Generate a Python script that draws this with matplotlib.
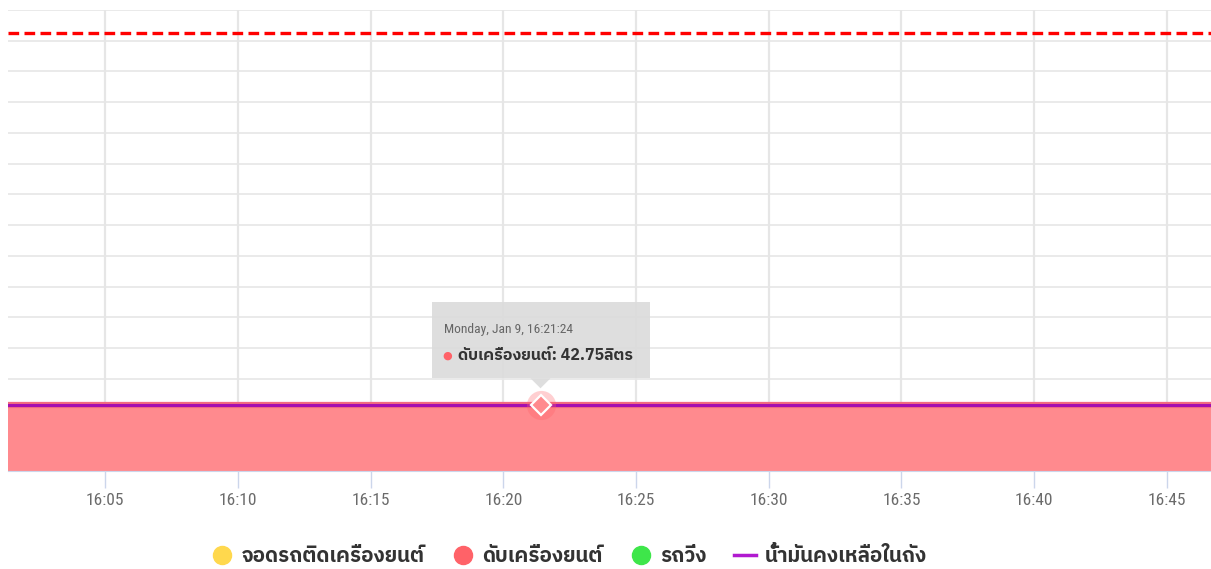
import numpy as np
import pandas as pd
import matplotlib
matplotlib.use("Agg")
import matplotlib.pyplot as plt
import matplotlib.dates as mdates
from matplotlib import font_manager
from matplotlib.ft2font import FT2Font
from matplotlib.lines import Line2D
from matplotlib.patches import Polygon, FancyBboxPatch

# ---------------- data ----------------
times = ["2023-01-09 16:01:20", "2023-01-09 16:21:24", "2023-01-09 16:46:40"]
engine_off_litres = [42.75, 42.75, 42.75]      # red area  (ดับเครื่องยนต์)
fuel_remaining = [42.75, 42.75, 42.75]         # purple line (น้ำมันคงเหลือในถัง)
tank_capacity = 285                             # red dashed line
y_max = 300
y_step = 20
tick_times = ["16:05", "16:10", "16:15", "16:20", "16:25", "16:30", "16:35", "16:40", "16:45"]
legend_labels = ["จอดรถติดเครื่องยนต์", "ดับเครื่องยนต์", "รถวิ่ง", "น้ำมันคงเหลือในถัง"]
tooltip_time = "2023-01-09 16:21:24"
tooltip_header = "Monday, Jan 9, 16:21:24"
tooltip_series = "ดับเครื่องยนต์"
tooltip_value = 42.75
tooltip_unit = "ลิตร"

# ---------------- fonts ----------------
def find_thai_font():
    preferred = []
    others = []
    for path in font_manager.findSystemFonts():
        try:
            f = FT2Font(path)
            cmap = f.get_charmap()
        except Exception:
            continue
        if 0x0E14 in cmap and 0x0E34 in cmap:
            name = font_manager.FontProperties(fname=path).get_name()
            if "Thai" in name or "Loma" in name or "Garuda" in name:
                preferred.append(name)
            else:
                others.append(name)
    for lst in (preferred, others):
        if lst:
            return lst[0]
    return None

thai = find_thai_font()
fam = ([thai] if thai else []) + ["DejaVu Sans"]

def has_font(name):
    try:
        font_manager.findfont(font_manager.FontProperties(family=name), fallback_to_default=False)
        return True
    except Exception:
        return False

tick_family = "DejaVu Sans"
for cand in ["Liberation Sans Narrow", "Roboto Condensed", "Open Sans Condensed", "Roboto"]:
    if has_font(cand):
        tick_family = cand
        break

plt.rcParams["font.family"] = fam

# ---------------- figure ----------------
W, H, DPI = 1211, 569, 100
fig = plt.figure(figsize=(W / DPI, H / DPI), dpi=DPI)
ax = fig.add_axes([8 / W, (H - 471) / H, 1 - 8 / W, (471 - 10) / H])

t = pd.to_datetime(times)
ax.fill_between(t, 0, engine_off_litres, color="#ff8a8e", lw=0, zorder=2)
ax.plot(t, engine_off_litres, color="#f26b80", lw=4.5, zorder=3)
ax.plot(t, fuel_remaining, color="#a40fb0", lw=2.2, zorder=4)
ax.axhline(tank_capacity, color="#ff0000", lw=2.4, ls=(0, (3.2, 1.6)), zorder=5)

day = pd.Timestamp(times[0]).strftime("%Y-%m-%d")
tick_pos = pd.to_datetime([f"{day} {s}" for s in tick_times])
ax.set_xticks(tick_pos)
ax.set_xticklabels(tick_times, fontfamily=tick_family, fontsize=12.5, color="#6b6b6b")
ax.set_xlim(t[0], t[-1])
ax.set_ylim(0, y_max)
ax.set_yticks(np.arange(0, y_max + 1, y_step))
ax.tick_params(axis="y", left=False, labelleft=False)
ax.tick_params(axis="x", length=12, width=1, color="#ccd6eb", pad=4)
for s in ["left", "right", "top"]:
    ax.spines[s].set_visible(False)
ax.spines["bottom"].set_color("#ccd6eb")
ax.grid(axis="y", color="#e6e6e6", lw=1.2, zorder=0)
ax.grid(axis="x", color="#e6e6e6", lw=1.6, zorder=0)
ax.set_axisbelow(True)

# ---------------- hovered point + tooltip ----------------
tp = pd.Timestamp(tooltip_time)
ax.plot([tp], [tooltip_value], marker="o", ms=21, color="#ff6268", alpha=0.3, mec="none", zorder=6)
ax.plot([tp], [tooltip_value], marker="D", ms=10, mfc="#ff8a8e", mec="white", mew=1.6, zorder=7)

fig.canvas.draw()
px, py = ax.transData.transform((mdates.date2num(tp), tooltip_value))
bw, bh = 218, 76
bx0, by0 = px - bw / 2, py + 27
box = FancyBboxPatch((bx0, by0), bw, bh, boxstyle="square,pad=0", transform=None,
                     facecolor=(0.86, 0.86, 0.86, 0.9), edgecolor="none", zorder=10)
fig.patches.append(box)
tri = Polygon([(px - 10, by0), (px + 10, by0), (px, by0 - 10)], closed=True, transform=None,
              facecolor=(0.86, 0.86, 0.86, 0.9), edgecolor="none", zorder=10)
fig.patches.append(tri)
fig.text((bx0 + 12) / W, (by0 + bh - 27) / H, tooltip_header, fontsize=9.7, color="#666666",
         fontfamily=tick_family, va="center", ha="left", zorder=11)
fig.text((bx0 + 16) / W, (by0 + bh - 53) / H, "●", fontsize=8, color="#ff6268",
         va="center", ha="center", fontfamily="DejaVu Sans", zorder=11)
fig.text((bx0 + 26) / W, (by0 + bh - 53) / H,
         f"{tooltip_series}: {tooltip_value:.2f}{tooltip_unit}", fontsize=11.5, fontweight="bold",
         color="#333333", va="center", ha="left", fontfamily=fam, zorder=11)

# ---------------- legend ----------------
handles = [
    Line2D([], [], ls="none", marker="o", ms=13, color="#ffd84d"),
    Line2D([], [], ls="none", marker="o", ms=13, color="#ff6268"),
    Line2D([], [], ls="none", marker="o", ms=13, color="#3ee64a"),
    Line2D([], [], color="#b11ad0", lw=2.5),
]
leg = fig.legend(handles, legend_labels, loc="center", bbox_to_anchor=(569 / W, 1 - 556 / H),
                 ncol=4, frameon=False, prop={"family": fam, "size": 14.8, "weight": "bold"},
                 handlelength=1.1, handletextpad=0.4, columnspacing=1.3, labelcolor="#333333")

fig.savefig("out.png", dpi=DPI)
